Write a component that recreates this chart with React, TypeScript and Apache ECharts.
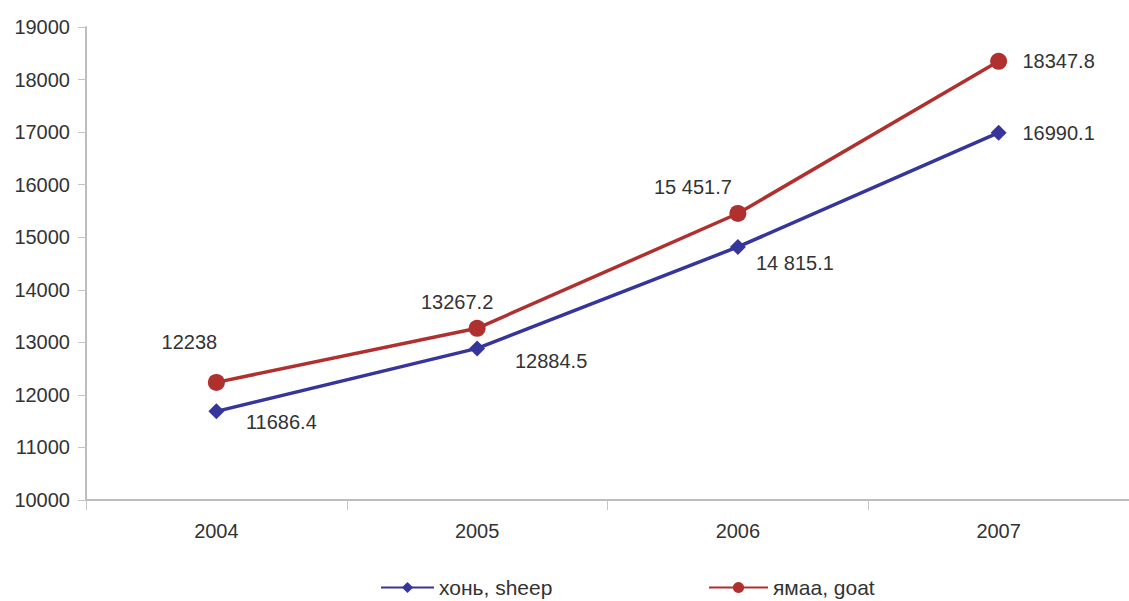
import React, { useEffect, useRef } from "react";
import * as echarts from "echarts";

const years = ["2004", "2005", "2006", "2007"];
const sheepName = "хонь, sheep";
const goatName = "ямаа, goat";
const sheepValues = [11686.4, 12884.5, 14815.1, 16990.1];
const goatValues = [12238, 13267.2, 15451.7, 18347.8];
const sheepLabels = ["11686.4", "12884.5", "14 815.1", "16990.1"];
const goatLabels = ["12238", "13267.2", "15 451.7", "18347.8"];

// label placement (pixel offsets from each point)
const sheepOffsets = [[65, 11], [74, 13], [57, 16], [60, 0]];
const goatOffsets = [[-27, -40], [-20, -26], [-45, -26], [60, 0]];

const FONT = "'Liberation Sans', Arial, sans-serif";
const BLUE = "#36359b";
const RED = "#b0302f";

export default function App() {
  const ref = useRef<HTMLDivElement>(null);
  useEffect(() => {
    if (!ref.current) return;
    const chart = echarts.init(ref.current, null, { renderer: "svg" });
    const mk = (vals: number[], labels: string[], offs: number[][]) =>
      vals.map((v, i) => ({
        value: v,
        label: {
          show: true,
          position: "inside",
          align: "center",
          verticalAlign: "middle",
          offset: offs[i],
          formatter: () => labels[i],
        },
      }));
    chart.setOption({
      animation: false,
      backgroundColor: "#ffffff",
      textStyle: { fontFamily: FONT },
      grid: { left: 86, right: 0, top: 27, bottom: 101, containLabel: false },
      legend: [
        {
          data: [sheepName],
          left: 380,
          top: 577,
          padding: 0,
          itemWidth: 53,
          itemHeight: 14,
          textStyle: { fontSize: 21, color: "#333", fontFamily: FONT },
        },
        {
          data: [goatName],
          left: 708,
          top: 577,
          padding: 0,
          itemWidth: 59,
          itemHeight: 14,
          textStyle: { fontSize: 21, color: "#333", fontFamily: FONT },
        },
      ],
      xAxis: {
        type: "category",
        data: years,
        boundaryGap: true,
        axisLine: { lineStyle: { color: "#bdbdbd", width: 2 } },
        axisTick: { show: true, length: 10, lineStyle: { color: "#c4c4c4" } },
        axisLabel: { color: "#333", fontSize: 20, margin: 21, fontFamily: FONT },
        splitLine: { show: false },
      },
      yAxis: {
        type: "value",
        min: 10000,
        max: 19000,
        interval: 1000,
        axisLine: { show: true, lineStyle: { color: "#bdbdbd", width: 2 } },
        axisTick: { show: true, length: 8, lineStyle: { color: "#c4c4c4" } },
        axisLabel: {
          color: "#333",
          fontSize: 20,
          margin: 16,
          fontFamily: FONT,
          formatter: (v: number) => String(v),
        },
        splitLine: { show: false },
      },
      series: [
        {
          name: sheepName,
          type: "line",
          data: mk(sheepValues, sheepLabels, sheepOffsets),
          symbol: "diamond",
          symbolSize: 16,
          itemStyle: { color: BLUE },
          lineStyle: { color: BLUE, width: 3.5 },
          label: { color: "#333", fontSize: 20, fontFamily: FONT },
        },
        {
          name: goatName,
          type: "line",
          data: mk(goatValues, goatLabels, goatOffsets),
          symbol: "circle",
          symbolSize: 17,
          itemStyle: { color: RED },
          lineStyle: { color: RED, width: 3.5 },
          label: { color: "#333", fontSize: 20, fontFamily: FONT },
        },
      ],
    });
    return () => chart.dispose();
  }, []);
  return (
    <div
      ref={ref}
      style={{ position: "fixed", left: 0, top: 0, width: 1129, height: 601, background: "#fff" }}
    />
  );
}
